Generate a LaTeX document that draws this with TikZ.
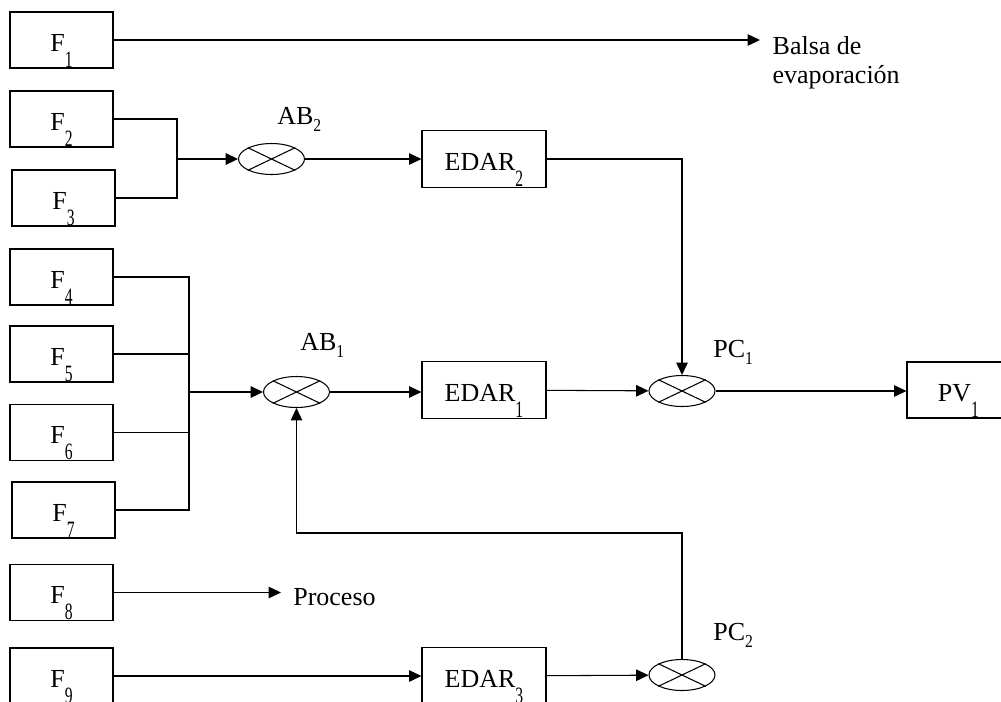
\documentclass[tikz,border=0pt]{standalone}
\usepackage{fontspec}
\setmainfont{Liberation Serif}
\usepackage{graphicx}
\usetikzlibrary{arrows.meta,shapes.geometric}

\newcommand{\boxsub}[1]{\raisebox{-9pt}{\scalebox{0.6}[0.9]{#1}}}
\newcommand{\lblsub}[1]{\raisebox{-4.5pt}{\scalebox{0.6}[0.7]{#1}}}

\tikzset{
  flow/.style={draw, line width=0.6pt, minimum width=2.06cm, minimum height=1.12cm,
    inner sep=0pt, text height=13pt, text depth=0pt},
  plant/.style={flow, minimum width=2.48cm, minimum height=1.14cm},
  mixer/.style={draw, ellipse, line width=0.6pt, minimum width=1.32cm,
    minimum height=0.62cm, inner sep=0pt},
  tag/.style={anchor=base west, inner sep=0pt},
  pipe/.style={line width=0.6pt},
  feed/.style={pipe, -{Triangle[length=7pt,width=6.5pt]}},
}

\begin{document}
\begin{tikzpicture}[x=0.02cm, y=-0.02cm, font=\fontsize{14.8pt}{16.5pt}\selectfont]
\useasboundingbox (0,0) rectangle (1001,701);
\clip (0,0) rectangle (1001,701);

% sources
\foreach \i/\x/\y in {1/61.5/40, 2/61.5/119, 3/63.5/198, 4/61.5/277, 5/61.5/354,
                       6/61.5/432.5, 7/63.5/510, 8/61.5/592.5, 9/61.5/676}
  \node[flow] (f\i) at (\x,\y) {F\boxsub{\i}};

% plants and mixing points
\node[plant] (edar2) at (484,159) {EDAR\boxsub{2}};
\node[plant] (edar1) at (484,390) {EDAR\boxsub{1}};
\node[plant] (edar3) at (484,676) {EDAR\boxsub{3}};
\node[flow] (pv1) at (958.5,390) {PV\boxsub{1}};

\node[mixer] (ab2) at (271.5,159) {};
\node[mixer] (ab1) at (296.5,392) {};
\node[mixer] (pc1) at (682,391) {};
\node[mixer] (pc2) at (682,675) {};
\foreach \m in {ab1, ab2, pc1, pc2}
  {
  \draw[pipe] (\m.north west) -- (\m.south east);
  \draw[pipe] (\m.north east) -- (\m.south west);
  }

\node[tag] (ab2-tag) at (277,124) {AB\lblsub{2}};
\node[tag] (ab1-tag) at (300,350) {AB\lblsub{1}};
\node[tag] (pc1-tag) at (713,357) {PC\lblsub{1}};
\node[tag] (pc2-tag) at (713,640) {PC\lblsub{2}};

\node[tag, inner xsep=6.8pt] (proc) at (281,605) {Proceso};
\node[anchor=north west, inner xsep=7pt, inner ysep=0pt, align=left] (balsa)
  at (760,36) {Balsa de\\evaporación};

% collectors
\coordinate (j2) at (177,159);
\coordinate (j1) at (189,392);
\draw[pipe] (f2) -| (j2);
\draw[pipe] (f3) -| (j2);
\draw[feed, line width=1.1pt] (j2) -- (ab2);
\foreach \i in {4,...,7}
  \draw[pipe] (f\i) -| (j1);
\draw[feed, line width=1.1pt] (j1) -- (ab1);

% lines
\draw[feed] (f1) -- (f1 -| balsa.west);
\draw[feed] (ab2) -- (edar2);
\draw[feed] (edar2) -| (pc1);
\draw[feed] (ab1) -- (ab1 -| edar1.west);
\draw[feed] (edar1) -- (pc1);
\draw[feed] (pc1) -- (pc1 -| pv1.west);
\draw[feed] (f8) -- (f8 -| proc.west);
\draw[feed] (f9) -- (edar3);
\draw[feed] (edar3) -- (pc2);
\coordinate (back) at (500,533);
\draw[feed] (pc2) |- (back) -| (ab1);

\end{tikzpicture}
\end{document}
